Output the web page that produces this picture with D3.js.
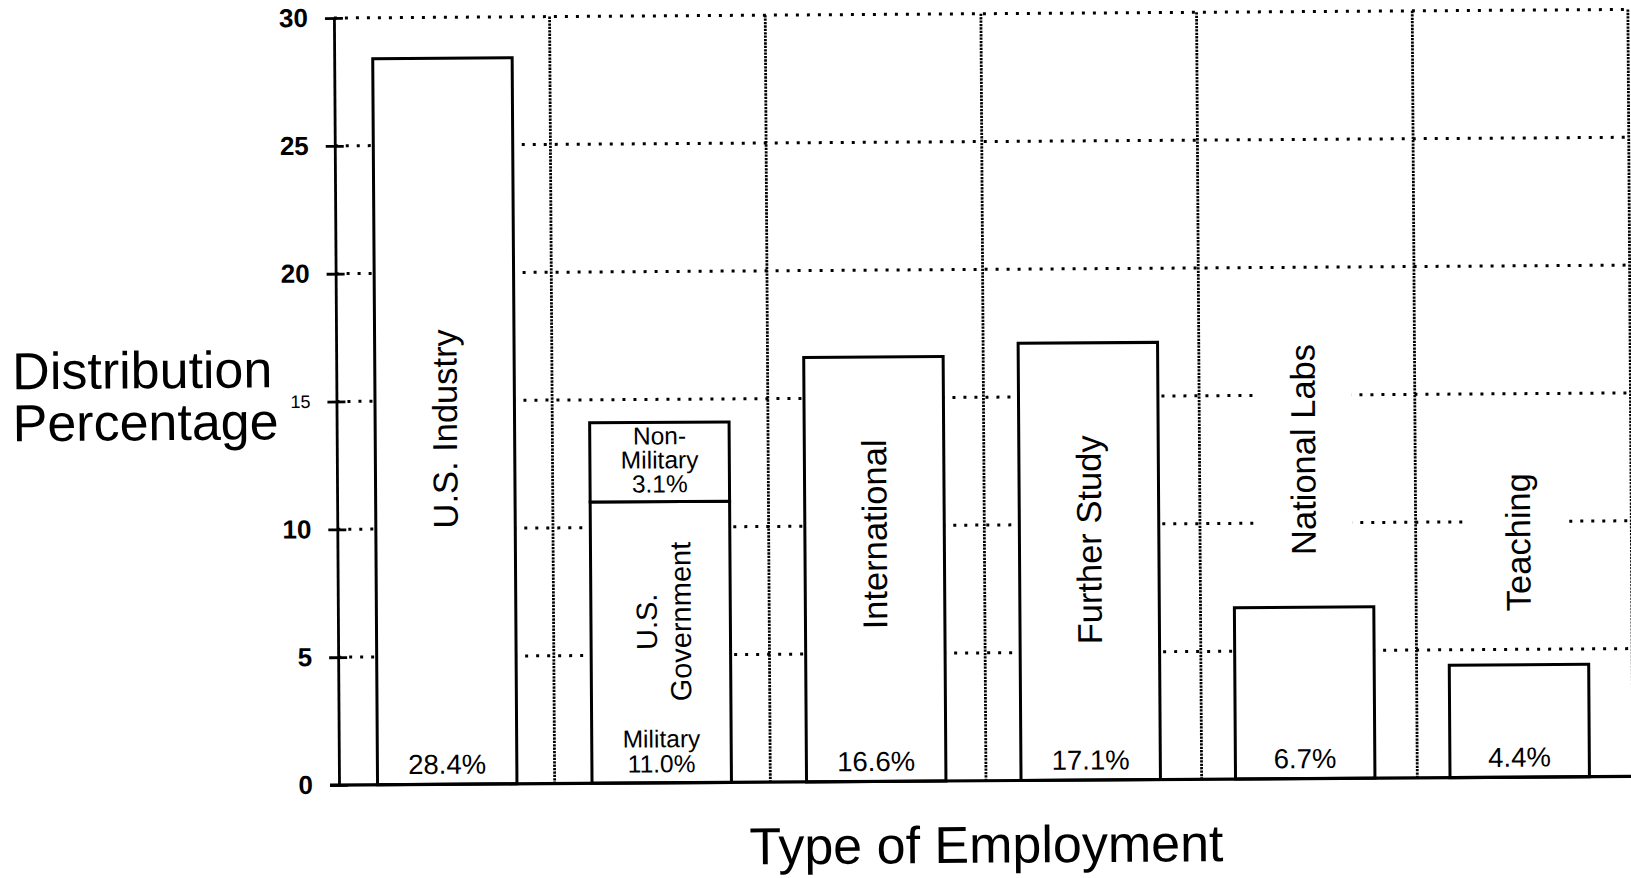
<!DOCTYPE html>
<html>
<head>
<meta charset="utf-8">
<script src="https://cdn.jsdelivr.net/npm/d3@7"></script>
<style>
  html, body { margin: 0; padding: 0; background: #fff; }
  svg { display: block; font-family: "Liberation Sans", Arial, Helvetica, sans-serif; }
</style>
</head>
<body>
<svg id="chart" width="1631" height="878"></svg>
<script>
// Data
const CATEGORIES = ["U.S. Industry", "U.S. Government", "International", "Further Study", "National Labs", "Teaching"];
const BASE_VALUES = [28.4, 11.0, 16.6, 17.1, 6.7, 4.4];     // bottom segment of each bar
const STACK_VALUES = [0, 3.1, 0, 0, 0, 0];                   // Non-Military part on top of U.S. Government
const CATEGORY_LABELS = [["U.S. Industry"], ["U.S.", "Government"], ["International"], ["Further Study"], ["National Labs"], ["Teaching"]];
const BOTTOM_LABELS = [["28.4%"], ["Military", "11.0%"], ["16.6%"], ["17.1%"], ["6.7%"], ["4.4%"]];
const STACK_LABELS = [[], ["Non-", "Military", "3.1%"], [], [], [], []];
const Y_TICKS = [0, 5, 10, 15, 20, 25, 30];

// where the vertical category label sits, in y units (layout only)
const LABEL_CENTER = [13.9, 6.3, 9.66, 9.39, 12.87, 9.19];

const svg = d3.select("#chart");
// the scan is tilted a little, so the whole drawing is turned by the same amount
const g = svg.append("g").attr("transform", "rotate(-0.38, 339, 785)");

// bars
const x = d3.scaleBand()
  .domain(CATEGORIES)
  .range([340, 1627])
  .paddingInner(0.35)
  .paddingOuter(0.175);

// grid bands (dotted verticals at band edges)
const xGrid = d3.scaleBand()
  .domain(CATEGORIES)
  .range([339, 1633])
  .padding(0);

const y = d3.scaleLinear()
  .domain([0, 30])
  .range([785, 18]);

// Horizontal dotted grid
g.append("g")
  .selectAll("line")
  .data(Y_TICKS.filter(t => t > 0))
  .join("line")
    .attr("x1", xGrid.range()[0])
    .attr("x2", xGrid(CATEGORIES[CATEGORIES.length - 1]) + xGrid.bandwidth())
    .attr("y1", d => y(d))
    .attr("y2", d => y(d))
    .attr("stroke", "#000")
    .attr("stroke-width", 3)
    .attr("stroke-dasharray", "3 8");

// Vertical dotted grid at the right edge of each category band
g.append("g")
  .selectAll("line")
  .data(CATEGORIES)
  .join("line")
    .attr("x1", d => xGrid(d) + xGrid.bandwidth())
    .attr("x2", d => xGrid(d) + xGrid.bandwidth())
    .attr("y1", y(30))
    .attr("y2", y(0))
    .attr("stroke", "#000")
    .attr("stroke-width", 2.8)
    .attr("stroke-dasharray", "2.3 1.1");

// Bars
const bars = g.append("g");
bars.selectAll("rect.base")
  .data(CATEGORIES)
  .join("rect")
    .attr("class", "base")
    .attr("x", d => x(d))
    .attr("width", x.bandwidth())
    .attr("y", (d, i) => y(BASE_VALUES[i]))
    .attr("height", (d, i) => y(0) - y(BASE_VALUES[i]))
    .attr("fill", "#fff")
    .attr("stroke", "#000")
    .attr("stroke-width", 3);

bars.selectAll("rect.stack")
  .data(CATEGORIES.filter((d, i) => STACK_VALUES[i] > 0))
  .join("rect")
    .attr("class", "stack")
    .attr("x", d => x(d))
    .attr("width", x.bandwidth())
    .attr("y", d => { const i = CATEGORIES.indexOf(d); return y(BASE_VALUES[i] + STACK_VALUES[i]); })
    .attr("height", d => { const i = CATEGORIES.indexOf(d); return y(BASE_VALUES[i]) - y(BASE_VALUES[i] + STACK_VALUES[i]); })
    .attr("fill", "#fff")
    .attr("stroke", "#000")
    .attr("stroke-width", 3);

// Vertical category labels, each in a white text box
CATEGORIES.forEach((c, i) => {
  const lines = CATEGORY_LABELS[i];
  const fs = lines.length > 1 ? 29 : 34.5;
  const lh = 34;
  const lab = g.append("g")
    .attr("transform", `translate(${x(c) + x.bandwidth() / 2},${y(LABEL_CENTER[i])}) rotate(-90)`);
  const box = lab.append("rect").attr("fill", "#fff");
  const txt = lab.append("g");
  lines.forEach((t, k) => {
    txt.append("text")
      .attr("text-anchor", "middle")
      .attr("y", (k - (lines.length - 1) / 2) * lh + 0.35 * fs + (lines.length > 1 ? 3 : 0))
      .attr("font-size", fs)
      .attr("fill", "#000")
      .text(t);
  });
  const bb = txt.node().getBBox();
  box.attr("x", bb.x - 14).attr("y", bb.y - 30)
    .attr("width", bb.width + 28).attr("height", bb.height + 60);
});

// Percent labels at the foot of each bar
CATEGORIES.forEach((c, i) => {
  const lines = BOTTOM_LABELS[i];
  const fs = lines.length > 1 ? 24.5 : 27.5;
  lines.forEach((t, k) => {
    g.append("text")
      .attr("x", x(c) + x.bandwidth() / 2)
      .attr("y", y(0) - 10.5 - (lines.length - 1 - k) * 25)
      .attr("text-anchor", "middle")
      .attr("font-size", fs)
      .attr("fill", "#000")
      .text(t);
  });
});

// Labels inside the stacked (Non-Military) segment
CATEGORIES.forEach((c, i) => {
  const lines = STACK_LABELS[i];
  if (!lines.length) return;
  const top = y(BASE_VALUES[i] + STACK_VALUES[i]);
  lines.forEach((t, k) => {
    g.append("text")
      .attr("x", x(c) + x.bandwidth() / 2)
      .attr("y", top + 22 + k * 24)
      .attr("text-anchor", "middle")
      .attr("font-size", 24.5)
      .attr("fill", "#000")
      .text(t);
  });
});

// Y axis
g.append("g")
  .attr("transform", `translate(${xGrid.range()[0]},0)`)
  .call(d3.axisLeft(y).tickValues(Y_TICKS).tickSize(9).tickSizeOuter(0).tickPadding(17))
  .call(ax => ax.select(".domain").attr("stroke", "#000").attr("stroke-width", 2.8))
  .call(ax => ax.selectAll(".tick line").attr("x1", 9).attr("stroke", "#000").attr("stroke-width", 2.8))
  .call(ax => ax.selectAll(".tick text")
    .attr("fill", "#000")
    .attr("font-family", "Liberation Sans, Arial, sans-serif")
    .attr("font-size", d => d === 15 ? 18 : 26)
    .attr("font-weight", d => d === 15 ? "normal" : "bold"));

// Baseline
g.append("line")
  .attr("x1", xGrid.range()[0] - 9)
  .attr("x2", 1645)
  .attr("y1", y(0))
  .attr("y2", y(0))
  .attr("stroke", "#000")
  .attr("stroke-width", 3.2);

// Axis titles
const yTitle = g.append("text")
  .attr("font-size", 52)
  .attr("fill", "#000");
yTitle.append("tspan").attr("x", 15).attr("y", 387).text("Distribution");
yTitle.append("tspan").attr("x", 15).attr("y", 439).text("Percentage");

g.append("text")
  .attr("x", 986)
  .attr("y", 867)
  .attr("text-anchor", "middle")
  .attr("font-size", 52)
  .attr("fill", "#000")
  .text("Type of Employment");
</script>
</body>
</html>
